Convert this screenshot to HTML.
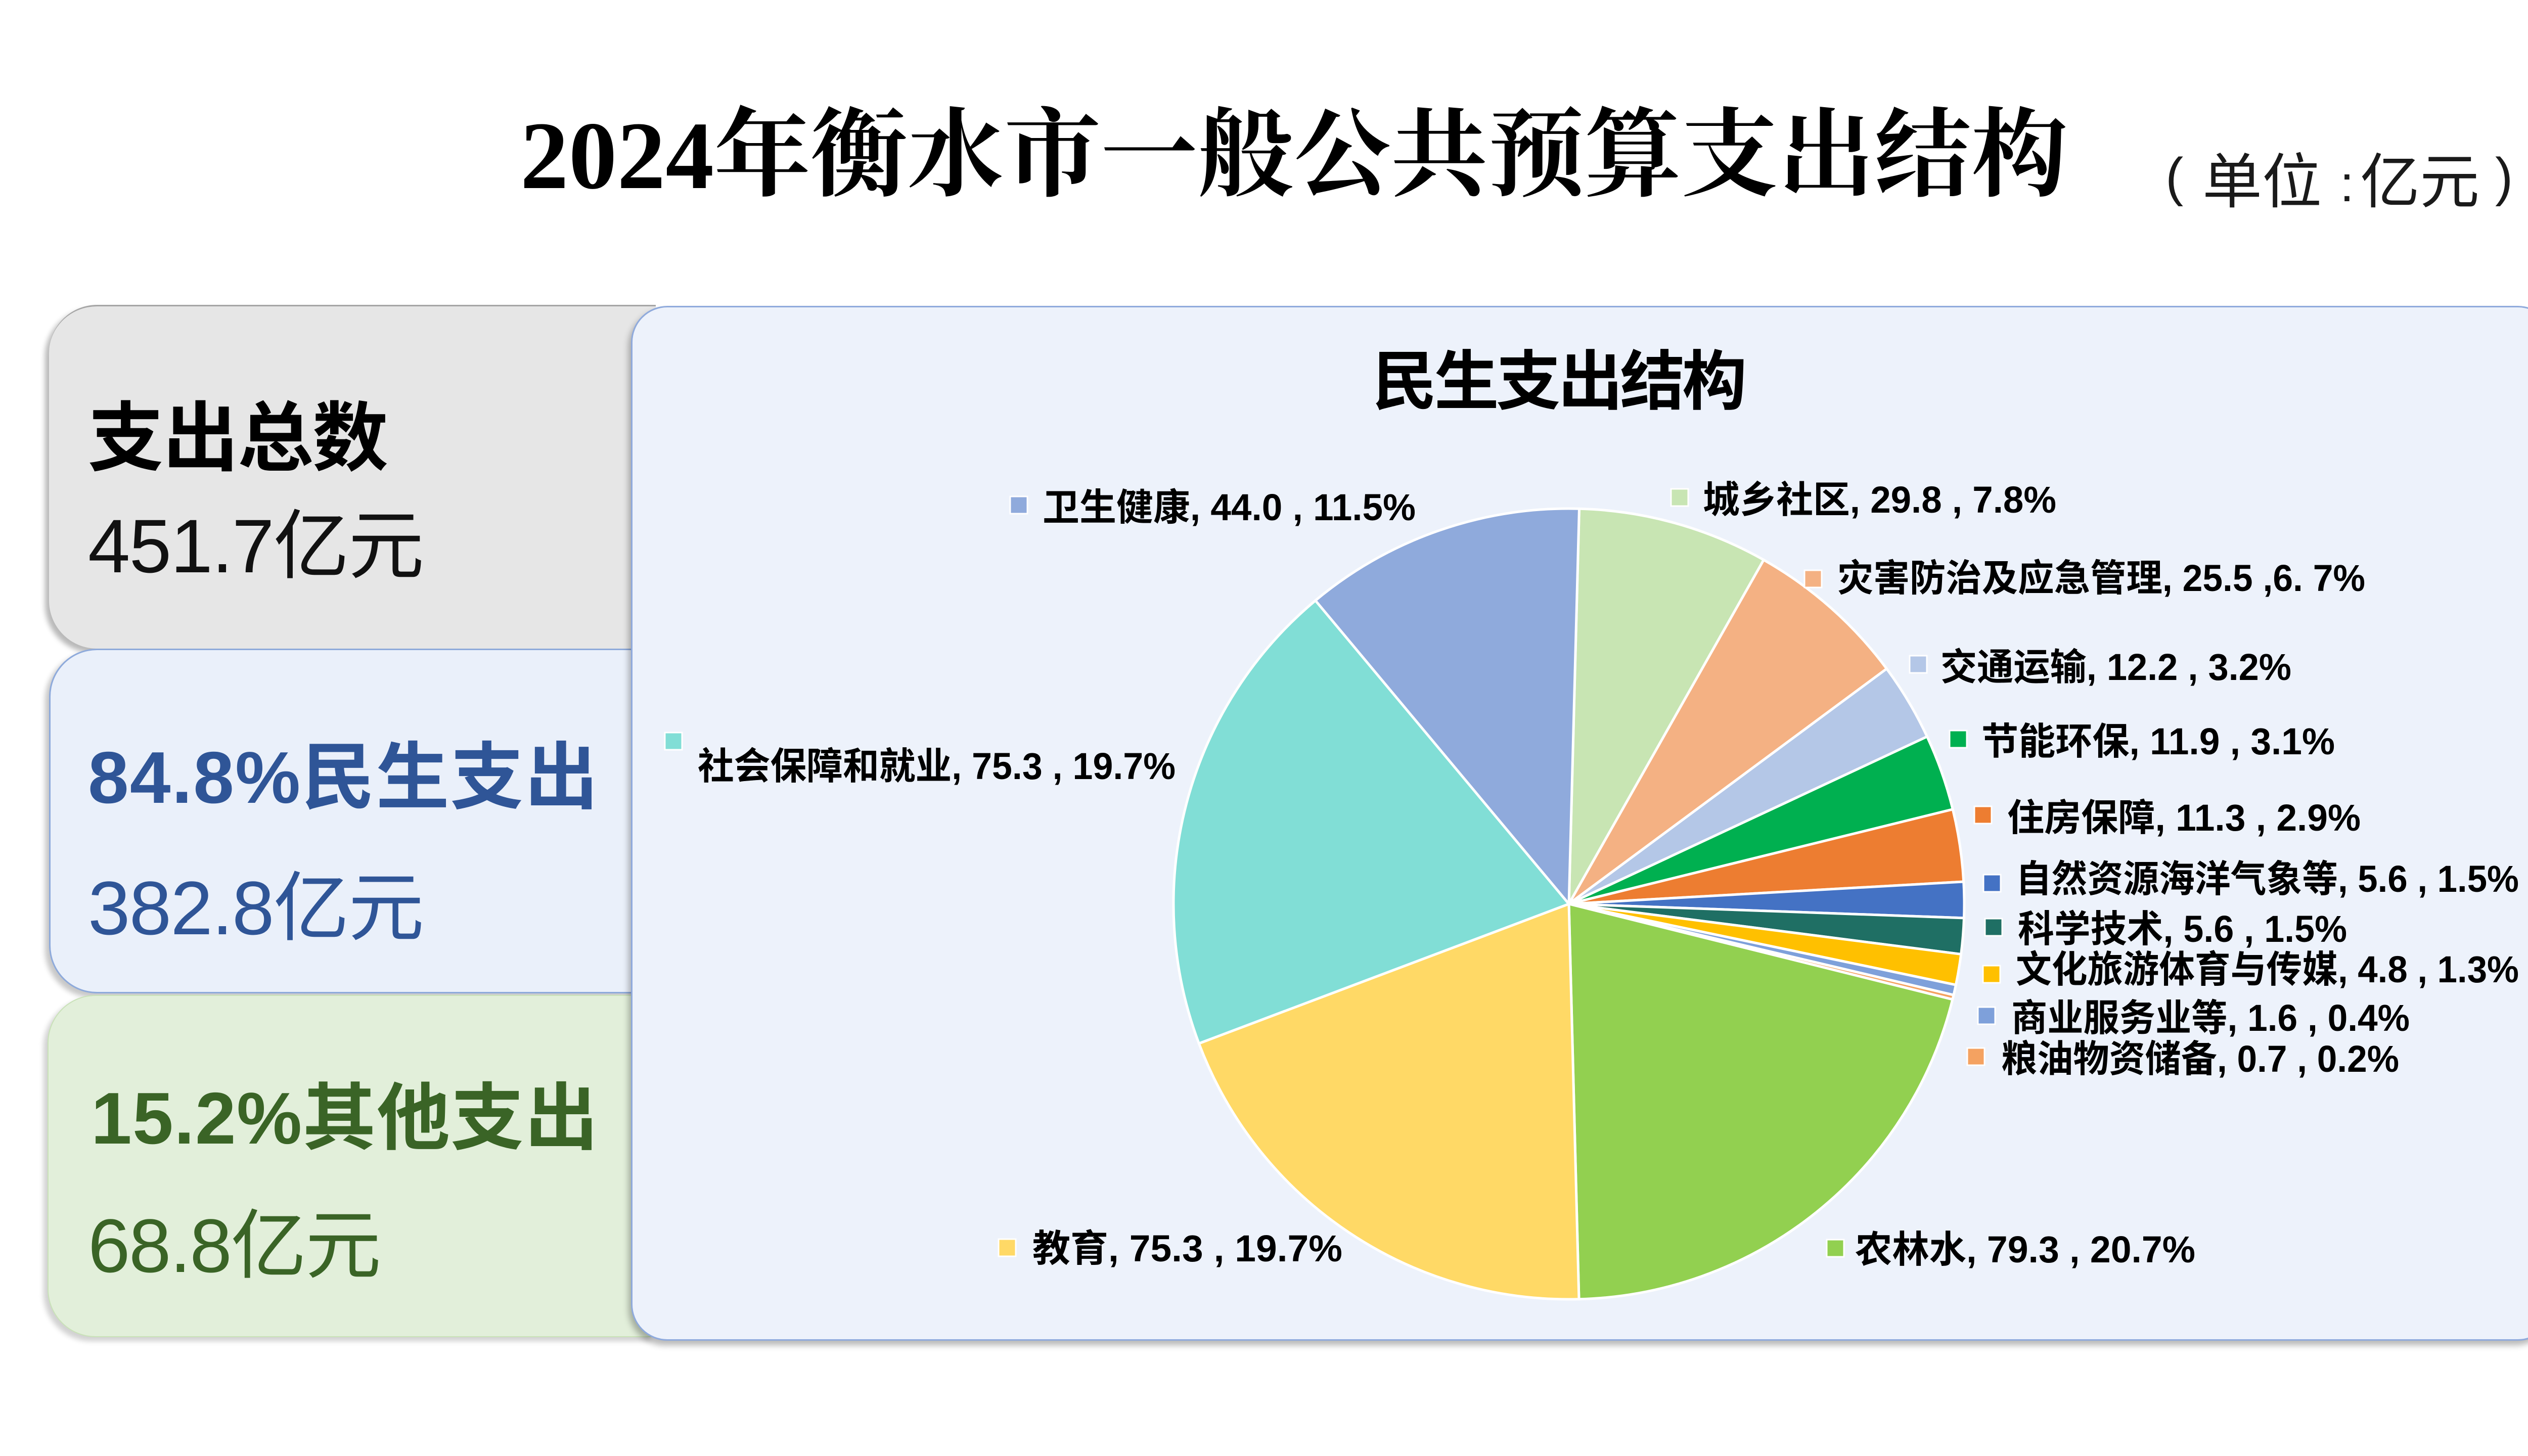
<!DOCTYPE html>
<html lang="zh-CN">
<head>
<meta charset="utf-8">
<style>
  html,body{margin:0;padding:0;background:#ffffff;}
  body{width:5120px;height:2880px;position:relative;overflow:hidden;}
  .box{position:absolute;box-sizing:border-box;}
  #gray{left:97px;top:603px;width:1200px;height:680px;background:#e6e6e6;border-top:3px solid #a5a5a5;
        border-radius:95px 0 0 95px;box-shadow:-8px 8px 10px rgba(0,0,0,0.28);}
  #blue{left:97px;top:1283px;width:1200px;height:682px;background:#eaf0fa;border:3px solid #8eaadb;border-right:none;
        border-radius:95px 0 0 95px;box-shadow:-8px 8px 10px rgba(0,0,0,0.22);}
  #green{left:94px;top:1968px;width:1200px;height:677px;background:#e2efda;border:2px solid #c9e2b8;border-right:none;
        border-radius:95px 0 0 95px;box-shadow:-8px 8px 10px rgba(0,0,0,0.18);}
  #panel{left:1248px;top:605px;width:3804px;height:2047px;background:#edf2fb;border:3px solid #8faadc;
        border-radius:72px;box-shadow:-5px 9px 12px rgba(0,0,0,0.28);}
  svg{position:absolute;left:0;top:0;}
</style>
</head>
<body>
<div class="box" id="gray"></div>
<div class="box" id="blue"></div>
<div class="box" id="green"></div>
<div class="box" id="panel"></div>

<svg width="5120" height="2880" viewBox="0 0 5120 2880" xmlns="http://www.w3.org/2000/svg">
  <!-- Title -->
  <text x="1029" y="372" font-family="'Liberation Serif','Noto Serif CJK SC',serif" font-weight="bold" font-size="191" fill="#000" textLength="3061">2024年衡水市一般公共预算支出结构</text>
  <g font-family="'Liberation Sans','Noto Sans CJK SC',sans-serif" fill="#1a1a1a">
    <text x="4283" y="386" font-size="106">(</text>
    <text x="4356" y="401" font-size="118">单位</text>
    <text x="4628" y="398" font-size="100">:</text>
    <text x="4668" y="401" font-size="118">亿元</text>
    <text x="4935" y="386" font-size="106">)</text>
  </g>

  <!-- Left boxes text -->
  <g font-family="'Liberation Sans','Noto Sans CJK SC',sans-serif">
    <text x="174" y="919" font-size="150" font-weight="bold" fill="#000" textLength="594">支出总数</text>
    <text x="174" y="1132" font-size="150" fill="#111" textLength="665">451.7亿元</text>
    <text x="174" y="1588" font-size="145" font-weight="bold" fill="#2f5597" textLength="1009">84.8%民生支出</text>
    <text x="174" y="1848" font-size="150" fill="#2f5597" textLength="665">382.8亿元</text>
    <text x="180" y="2262" font-size="145" font-weight="bold" fill="#3a6426" textLength="1003">15.2%其他支出</text>
    <text x="174" y="2516" font-size="150" fill="#3a6426" textLength="580">68.8亿元</text>
  </g>

  <!-- Chart title -->
  <text x="2714" y="799" font-family="'Liberation Sans','Noto Sans CJK SC',sans-serif" font-weight="bold" font-size="128" fill="#000" textLength="741">民生支出结构</text>

  <!-- Pie -->
  <g stroke="#ffffff" stroke-width="5" stroke-linejoin="round">
    <path d="M3103 1788 L3123.47 1006.27 A782 782 0 0 1 3488.30 1107.48 Z" fill="#c8e5b3"/>
    <path d="M3103 1788 L3488.30 1107.48 A782 782 0 0 1 3731.57 1322.76 Z" fill="#f4b183"/>
    <path d="M3103 1788 L3731.57 1322.76 A782 782 0 0 1 3811.52 1457.05 Z" fill="#b4c7e7"/>
    <path d="M3103 1788 L3811.52 1457.05 A782 782 0 0 1 3862.27 1600.82 Z" fill="#00b050"/>
    <path d="M3103 1788 L3862.27 1600.82 A782 782 0 0 1 3883.76 1744.01 Z" fill="#ed7d31"/>
    <path d="M3103 1788 L3883.76 1744.01 A782 782 0 0 1 3884.50 1815.84 Z" fill="#4472c4"/>
    <path d="M3103 1788 L3884.50 1815.84 A782 782 0 0 1 3878.65 1887.43 Z" fill="#1f6f64"/>
    <path d="M3103 1788 L3878.65 1887.43 A782 782 0 0 1 3868.43 1948.15 Z" fill="#ffc000"/>
    <path d="M3103 1788 L3868.43 1948.15 A782 782 0 0 1 3863.96 1968.20 Z" fill="#7ea0da"/>
    <path d="M3103 1788 L3863.96 1968.20 A782 782 0 0 1 3861.84 1976.92 Z" fill="#f4a261"/>
    <path d="M3103 1788 L3861.84 1976.92 A782 782 0 0 1 3122.97 2569.75 Z" fill="#92d050"/>
    <path d="M3103 1788 L3122.97 2569.75 A782 782 0 0 1 2371.31 2063.99 Z" fill="#ffd966"/>
    <path d="M3103 1788 L2371.31 2063.99 A782 782 0 0 1 2601.71 1187.80 Z" fill="#81ded6"/>
    <path d="M3103 1788 L2601.71 1187.80 A782 782 0 0 1 3123.47 1006.27 Z" fill="#8faadc"/>
  </g>

  <!-- Label markers -->
  <g stroke="#ffffff" stroke-width="3">
    <rect x="1998" y="982" width="34" height="34" fill="#8faadc"/>
    <rect x="3305" y="967" width="34" height="34" fill="#c8e5b3"/>
    <rect x="3569" y="1128" width="34" height="34" fill="#f4b183"/>
    <rect x="3777" y="1297" width="34" height="34" fill="#b4c7e7"/>
    <rect x="3856" y="1445" width="34" height="34" fill="#00b050"/>
    <rect x="3905" y="1595" width="34" height="34" fill="#ed7d31"/>
    <rect x="3923" y="1730" width="34" height="34" fill="#4472c4"/>
    <rect x="3926" y="1817" width="34" height="34" fill="#1f6f64"/>
    <rect x="3922" y="1910" width="34" height="34" fill="#ffc000"/>
    <rect x="3912" y="1992" width="34" height="34" fill="#7ea0da"/>
    <rect x="3891" y="2073" width="34" height="34" fill="#f4a261"/>
    <rect x="1315" y="1449" width="34" height="34" fill="#81ded6"/>
    <rect x="1975" y="2451" width="34" height="34" fill="#ffd966"/>
    <rect x="3613" y="2452" width="34" height="34" fill="#92d050"/>
  </g>

  <!-- Labels -->
  <g font-family="'Liberation Sans','Noto Sans CJK SC',sans-serif" font-weight="bold" font-size="74" fill="#000">
    <text x="2062" y="1029" textLength="738" lengthAdjust="spacingAndGlyphs">卫生健康, 44.0 , 11.5%</text>
    <text x="3368" y="1014" textLength="699" lengthAdjust="spacingAndGlyphs">城乡社区, 29.8 , 7.8%</text>
    <text x="3634" y="1169" textLength="1044" lengthAdjust="spacingAndGlyphs">灾害防治及应急管理, 25.5 ,6. 7%</text>
    <text x="3838" y="1345" textLength="694" lengthAdjust="spacingAndGlyphs">交通运输, 12.2 , 3.2%</text>
    <text x="3919" y="1492" textLength="699" lengthAdjust="spacingAndGlyphs">节能环保, 11.9 , 3.1%</text>
    <text x="3970" y="1643" textLength="699" lengthAdjust="spacingAndGlyphs">住房保障, 11.3 , 2.9%</text>
    <text x="3987" y="1764" textLength="995" lengthAdjust="spacingAndGlyphs">自然资源海洋气象等, 5.6 , 1.5%</text>
    <text x="3991" y="1863" textLength="651" lengthAdjust="spacingAndGlyphs">科学技术, 5.6 , 1.5%</text>
    <text x="3987" y="1943" textLength="995" lengthAdjust="spacingAndGlyphs">文化旅游体育与传媒, 4.8 , 1.3%</text>
    <text x="3978" y="2039" textLength="788" lengthAdjust="spacingAndGlyphs">商业服务业等, 1.6 , 0.4%</text>
    <text x="3958" y="2120" textLength="787" lengthAdjust="spacingAndGlyphs">粮油物资储备, 0.7 , 0.2%</text>
    <text x="1380" y="1541" textLength="945" lengthAdjust="spacingAndGlyphs">社会保障和就业, 75.3 , 19.7%</text>
    <text x="2042" y="2495" textLength="613" lengthAdjust="spacingAndGlyphs">教育, 75.3 , 19.7%</text>
    <text x="3669" y="2497" textLength="673" lengthAdjust="spacingAndGlyphs">农林水, 79.3 , 20.7%</text>
  </g>
</svg>
</body>
</html>
